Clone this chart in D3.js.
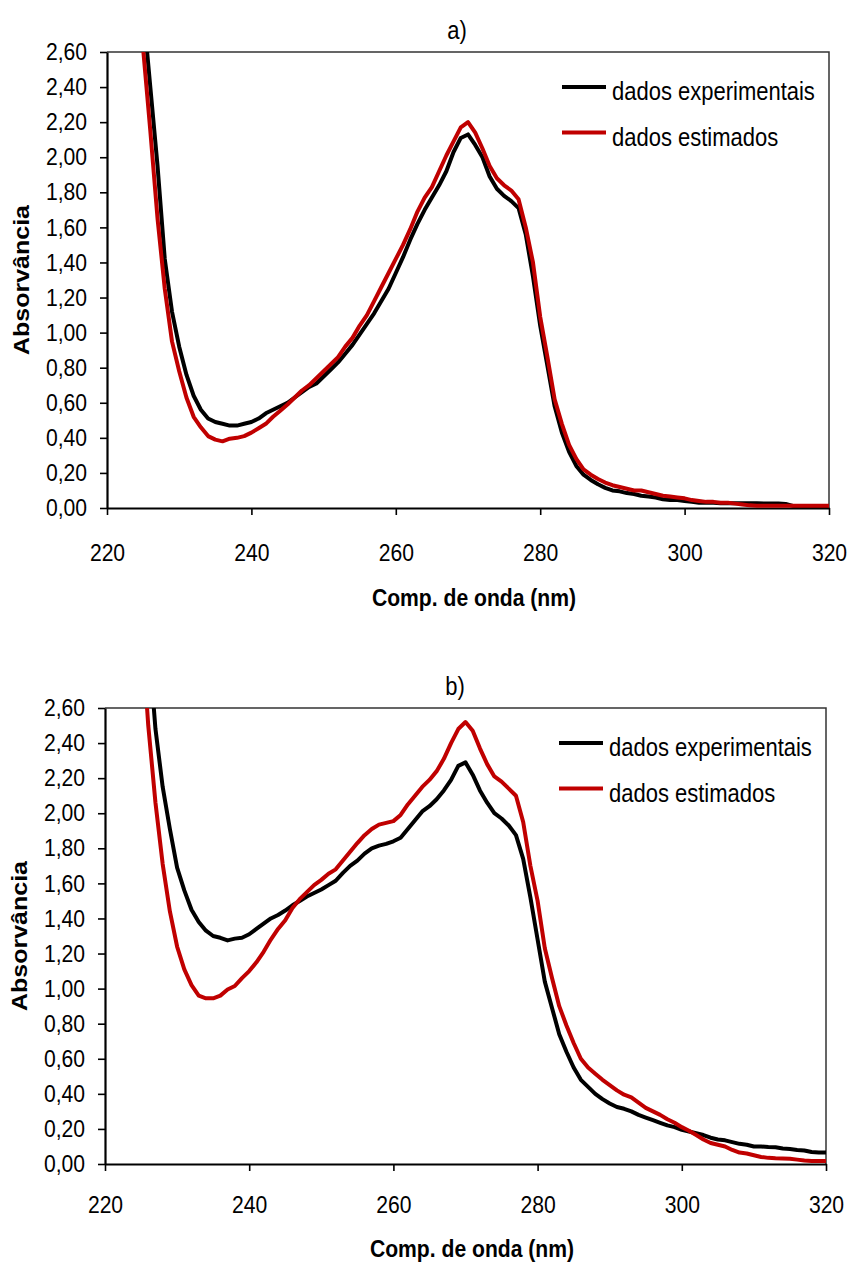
<!DOCTYPE html>
<html>
<head>
<meta charset="utf-8">
<script src="https://cdn.jsdelivr.net/npm/d3@7"></script>
<style>
  body { margin: 0; background: #fff; }
  svg { display: block; }
  text { font-family: "Liberation Sans", Arial, sans-serif; fill: #000; }
</style>
</head>
<body>
<div id="plot"></div>
<script>
// wavelength grid (nm)
const wavelengths = d3.range(225, 321);

// a) absorbance
const aExperimental = [2.85, 2.40, 1.95, 1.42, 1.12, 0.92, 0.76, 0.64, 0.56, 0.51,
  0.49, 0.48, 0.47, 0.47, 0.48, 0.49, 0.51, 0.54, 0.56, 0.58,
  0.60, 0.63, 0.66, 0.69, 0.71, 0.75, 0.79, 0.83, 0.88, 0.93,
  0.99, 1.05, 1.11, 1.18, 1.25, 1.34, 1.43, 1.53, 1.62, 1.70,
  1.77, 1.84, 1.92, 2.03, 2.11, 2.13, 2.07, 2.00, 1.89, 1.82,
  1.78, 1.75, 1.71, 1.56, 1.32, 1.04, 0.81, 0.58, 0.43, 0.32,
  0.24, 0.19, 0.16, 0.135, 0.115, 0.10, 0.095, 0.085, 0.08, 0.07,
  0.065, 0.06, 0.05, 0.045, 0.045, 0.04, 0.035, 0.03, 0.03, 0.03,
  0.027, 0.027, 0.027, 0.027, 0.027, 0.027, 0.025, 0.025, 0.025, 0.023,
  0.012, 0.01, 0.01, 0.01, 0.01, 0.01];
const aEstimated = [2.62, 2.15, 1.65, 1.25, 0.95, 0.78, 0.63, 0.52, 0.46, 0.41,
  0.39, 0.38, 0.395, 0.40, 0.41, 0.43, 0.455, 0.48, 0.52, 0.555,
  0.59, 0.63, 0.67, 0.70, 0.74, 0.78, 0.82, 0.86, 0.92, 0.97,
  1.04, 1.10, 1.18, 1.26, 1.34, 1.42, 1.50, 1.59, 1.69, 1.77,
  1.83, 1.92, 2.01, 2.09, 2.17, 2.20, 2.14, 2.05, 1.95, 1.88,
  1.84, 1.81, 1.76, 1.60, 1.40, 1.09, 0.86, 0.62, 0.48, 0.36,
  0.28, 0.22, 0.19, 0.165, 0.145, 0.13, 0.12, 0.11, 0.10, 0.10,
  0.09, 0.08, 0.07, 0.065, 0.06, 0.055, 0.045, 0.04, 0.035, 0.035,
  0.03, 0.03, 0.025, 0.02, 0.015, 0.013, 0.013, 0.013, 0.013, 0.013,
  0.013, 0.013, 0.013, 0.013, 0.013, 0.013];

// b) absorbance
const bExperimental = [3.6, 3.0, 2.48, 2.15, 1.91, 1.69, 1.56, 1.45, 1.38, 1.33,
  1.30, 1.29, 1.275, 1.285, 1.29, 1.31, 1.34, 1.37, 1.40, 1.42,
  1.445, 1.475, 1.50, 1.525, 1.545, 1.565, 1.59, 1.615, 1.66, 1.70,
  1.73, 1.77, 1.80, 1.815, 1.825, 1.84, 1.86, 1.91, 1.96, 2.01,
  2.04, 2.08, 2.13, 2.19, 2.27, 2.29, 2.22, 2.13, 2.06, 2.00,
  1.97, 1.93, 1.875, 1.74, 1.52, 1.28, 1.04, 0.89, 0.74, 0.64,
  0.55, 0.48, 0.44, 0.40, 0.37, 0.345, 0.325, 0.315, 0.30, 0.28,
  0.265, 0.25, 0.235, 0.22, 0.21, 0.195, 0.185, 0.175, 0.165, 0.15,
  0.14, 0.135, 0.125, 0.115, 0.11, 0.10, 0.10, 0.097, 0.095, 0.088,
  0.085, 0.08, 0.077, 0.068, 0.065, 0.065];
const bEstimated = [3.1, 2.5, 2.06, 1.71, 1.44, 1.24, 1.11, 1.02, 0.96, 0.945,
  0.945, 0.96, 0.995, 1.015, 1.06, 1.10, 1.15, 1.21, 1.28, 1.34,
  1.39, 1.46, 1.51, 1.55, 1.59, 1.62, 1.655, 1.68, 1.73, 1.78,
  1.83, 1.875, 1.91, 1.935, 1.945, 1.955, 1.99, 2.05, 2.10, 2.15,
  2.19, 2.24, 2.31, 2.40, 2.48, 2.52, 2.47, 2.37, 2.28, 2.21,
  2.18, 2.14, 2.10, 1.95, 1.70, 1.50, 1.23, 1.06, 0.90, 0.79,
  0.69, 0.60, 0.55, 0.515, 0.48, 0.45, 0.42, 0.395, 0.38, 0.35,
  0.32, 0.30, 0.28, 0.255, 0.235, 0.21, 0.19, 0.165, 0.14, 0.12,
  0.11, 0.10, 0.08, 0.065, 0.06, 0.05, 0.04, 0.035, 0.033, 0.032,
  0.03, 0.025, 0.02, 0.017, 0.017, 0.017];

const xTicks = [220, 240, 260, 280, 300, 320];
const yTicks = d3.range(0, 2.61, 0.2);
const seriesNames = ["dados experimentais", "dados estimados"];
const seriesColors = ["#000000", "#c00000"];

const W = 849, H = 1264;
const K = 0.88; // horizontal squeeze of the original lettering

const svg = d3.select("#plot").append("svg")
  .attr("width", W)
  .attr("height", H);

const fmt = d => d3.format(".2f")(d).replace(".", ",");

// squeeze text horizontally, keeping its anchor point in place
function narrow(sel) {
  sel.each(function () {
    const t = d3.select(this);
    const x = +t.attr("x") || 0;
    t.attr("x", x / K).attr("transform", `scale(${K},1)`);
  });
}

function drawChart(opts) {
  const { title, left, top, width, height, series, clipId, labelPad, titleDy } = opts;

  const x = d3.scaleLinear().domain([220, 320]).range([0, width]);
  const y = d3.scaleLinear().domain([0, 2.6]).range([height, 0]);

  const g = svg.append("g").attr("transform", `translate(${left}, ${top})`);

  g.append("clipPath").attr("id", clipId)
    .append("rect")
    .attr("x", 0).attr("y", 0)
    .attr("width", width).attr("height", height);

  // frame (top & right)
  g.append("path")
    .attr("d", `M0,0H${width}V${height}`)
    .attr("fill", "none")
    .attr("stroke", "#333")
    .attr("stroke-width", 1.5);

  // y axis
  const yAxis = g.append("g")
    .call(d3.axisLeft(y).tickValues(yTicks).tickFormat(fmt).tickSize(7).tickPadding(13).tickSizeOuter(0));
  yAxis.select(".domain").attr("stroke-width", 2.2);
  yAxis.selectAll(".tick line").attr("stroke-width", 1.6);
  yAxis.selectAll("text").style("font-size", "24px").style("font-family", null).call(narrow);

  // x axis
  const xAxis = g.append("g")
    .attr("transform", `translate(0, ${height})`)
    .call(d3.axisBottom(x).tickValues(xTicks).tickSize(7).tickPadding(labelPad).tickSizeOuter(0));
  xAxis.select(".domain").attr("stroke-width", 2.2);
  xAxis.selectAll(".tick line").attr("stroke-width", 1.6);
  xAxis.selectAll("text").style("font-size", "24px").style("font-family", null).call(narrow);

  // lines
  const line = d3.line()
    .x((d, i) => x(wavelengths[i]))
    .y(d => y(d));

  g.append("g")
    .attr("clip-path", `url(#${clipId})`)
    .selectAll("path")
    .data(series)
    .join("path")
    .attr("d", d => line(d))
    .attr("fill", "none")
    .attr("stroke", (d, i) => seriesColors[i])
    .attr("stroke-width", 4)
    .attr("stroke-linejoin", "round");

  // legend
  const legend = g.selectAll(".legend")
    .data(seriesNames)
    .join("g")
    .attr("class", "legend")
    .attr("transform", (d, i) => `translate(${width - 267}, ${35 + i * 45.5})`);
  legend.append("line")
    .attr("x1", 0).attr("x2", 44)
    .attr("stroke", (d, i) => seriesColors[i])
    .attr("stroke-width", 4);
  legend.append("text")
    .attr("x", 50)
    .attr("y", 13)
    .style("font-size", "25px")
    .text(d => d)
    .call(narrow);

  // title
  g.append("text")
    .attr("x", 350)
    .attr("y", -13)
    .attr("text-anchor", "middle")
    .style("font-size", "25px")
    .text(title)
    .call(narrow);

  // axis titles
  g.append("text")
    .attr("x", 367)
    .attr("y", height + titleDy)
    .attr("text-anchor", "middle")
    .style("font-size", "24px")
    .style("font-weight", "bold")
    .text("Comp. de onda (nm)")
    .call(narrow);

  g.append("text")
    .attr("transform", `translate(${-78}, ${height / 2}) rotate(-90) scale(1,${K})`)
    .attr("text-anchor", "middle")
    .style("font-size", "25px")
    .style("font-weight", "bold")
    .text("Absorvância");
}

drawChart({ title: "a)", left: 107, top: 52, width: 722, height: 456,
  series: [aExperimental, aEstimated], clipId: "clip-a", labelPad: 29, titleDy: 98 });
drawChart({ title: "b)", left: 105, top: 708, width: 721, height: 456,
  series: [bExperimental, bEstimated], clipId: "clip-b", labelPad: 25, titleDy: 93 });
</script>
</body>
</html>
